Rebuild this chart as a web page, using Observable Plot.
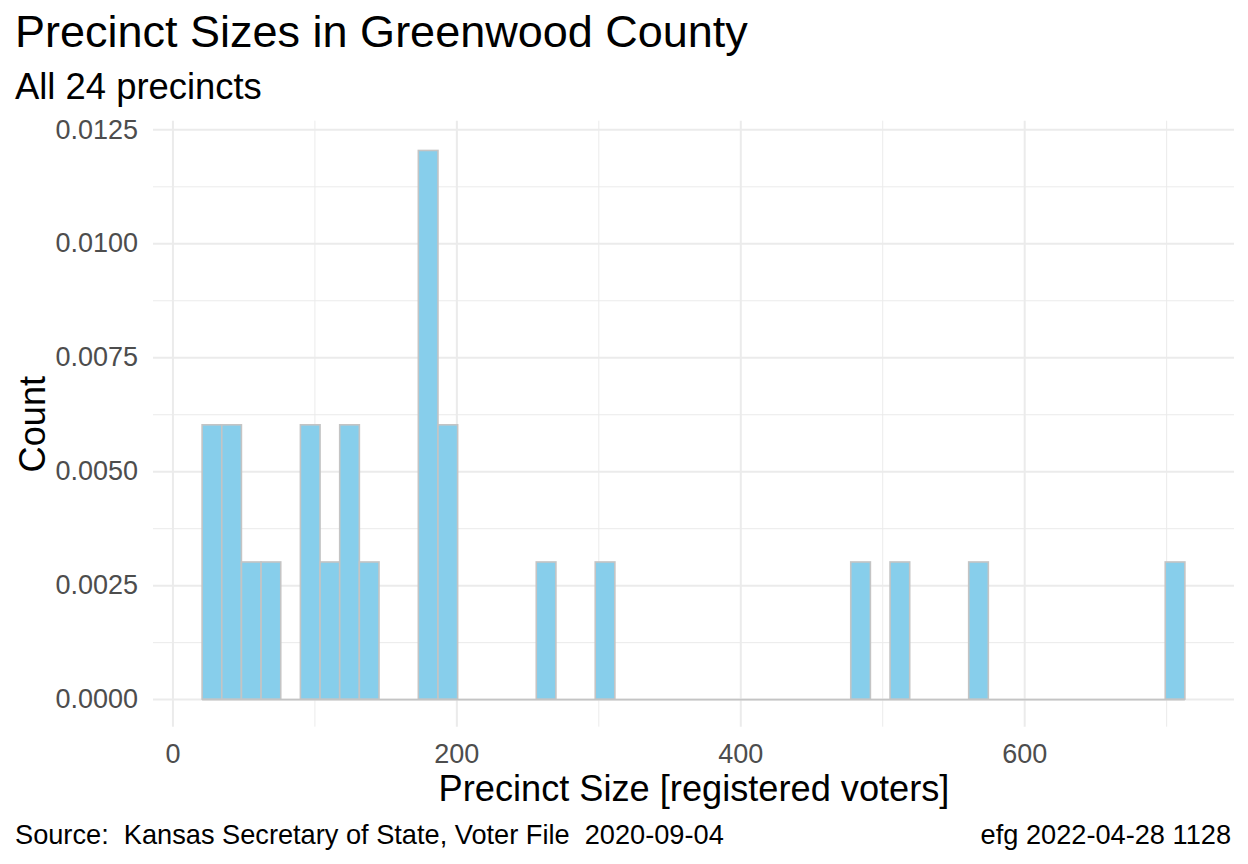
<!DOCTYPE html>
<html>
<head>
<meta charset="utf-8">
<script src="https://cdn.jsdelivr.net/npm/d3@7"></script>
<script src="https://cdn.jsdelivr.net/npm/@observablehq/plot@0.6"></script>
<style>
  body { margin: 0; background: #fff; font-family: "Liberation Sans", Arial, sans-serif; }
  #page { width: 1248px; height: 864px; overflow: hidden; background: #fff; }
  .blk { position: relative; width: 1248px; }
  .t { position: absolute; white-space: pre; line-height: 1; color: #000; }
  #chart svg { display: block; }
</style>
</head>
<body>
<div id="page">
  <div class="blk" id="head" style="height:110px">
    <div class="t" id="title" style="left:15px;top:9.3px;font-size:45px"></div>
    <div class="t" id="subtitle" style="left:15px;top:68.5px;font-size:36.4px"></div>
  </div>
  <div id="chart"></div>
  <div class="blk" id="foot" style="height:44px">
    <div class="t" id="capL" style="left:15px;top:1.4px;font-size:27.2px"></div>
    <div class="t" id="capR" style="right:17px;top:1.4px;font-size:27.2px"></div>
  </div>
</div>
<script>
// ---- Text ----
const titleText = "Precinct Sizes in Greenwood County";
const subtitleText = "All 24 precincts";
const xTitle = "Precinct Size [registered voters]";
const yTitle = "Count";
const captionLeft = "Source:  Kansas Secretary of State, Voter File  2020-09-04";
const captionRight = "efg 2022-04-28 1128";

// ---- Histogram data ----
const nPrecincts = 24;
const binStart = 20.9;      // left edge of first bin [voters]
const binWidth = 13.846;    // bin width [voters]
const binCounts = [2, 2, 1, 1, 0, 2, 1, 2, 1, 0,
                   0, 4, 2, 0, 0, 0, 0, 1, 0, 0,
                   1, 0, 0, 0, 0, 0, 0, 0, 0, 0,
                   0, 0, 0, 1, 0, 1, 0, 0, 0, 1,
                   0, 0, 0, 0, 0, 0, 0, 0, 0, 1];

// ---- Ticks ----
const xTicks = [0, 200, 400, 600];
const xMinorTicks = [100, 300, 500, 700];
const yTicks = [0, 0.0025, 0.005, 0.0075, 0.01, 0.0125];
const yMinorTicks = [0.00125, 0.00375, 0.00625, 0.00875, 0.01125];

document.getElementById("title").textContent = titleText;
document.getElementById("subtitle").textContent = subtitleText;
document.getElementById("capL").textContent = captionLeft;
document.getElementById("capR").textContent = captionRight;

const bins = binCounts.map((c, i) => ({
  x1: binStart + i * binWidth,
  x2: binStart + (i + 1) * binWidth,
  count: c,
  density: c / (nPrecincts * binWidth)
}));
const barBins = bins.filter(d => d.count > 0);
const firstEdge = bins[0].x1;
const lastEdge = bins[bins.length - 1].x2;

const gridColor = "#EBEBEB";
const barStroke = "#C4C4C4";

const chart = Plot.plot({
  width: 1248,
  height: 710,
  marginLeft: 153,
  marginRight: 14,
  marginTop: 10.7,
  marginBottom: 93.3,
  style: { fontFamily: "'Liberation Sans', Arial, sans-serif", background: "white", overflow: "visible" },
  x: { domain: [-13.7, 747.8] },
  y: { domain: [-0.000605, 0.01269] },
  marks: [
    Plot.ruleX(xMinorTicks, { stroke: gridColor, strokeWidth: 1 }),
    Plot.ruleY(yMinorTicks, { stroke: gridColor, strokeWidth: 1 }),
    Plot.ruleX(xTicks, { stroke: gridColor, strokeWidth: 2 }),
    Plot.ruleY(yTicks, { stroke: gridColor, strokeWidth: 2 }),
    Plot.ruleY([0], { x1: firstEdge, x2: lastEdge, stroke: barStroke, strokeWidth: 1.6 }),
    Plot.rect(barBins, { x1: "x1", x2: "x2", y1: 0, y2: "density", fill: "#87CEEB", stroke: barStroke, strokeWidth: 1.6 }),
    Plot.axisX(xTicks, { tickSize: 0, tickPadding: 16.6, fontSize: 27, fill: "#4D4D4D", label: null }),
    Plot.axisY(yTicks, { tickSize: 0, tickPadding: 15.5, fontSize: 27, fill: "#4D4D4D", label: null, tickFormat: d => d.toFixed(4) }),
    Plot.text([xTitle], { text: d => d, frameAnchor: "bottom", dy: 48.3, lineAnchor: "top", textAnchor: "middle", fontSize: 36.2, fill: "#000" }),
    Plot.text([yTitle], { text: d => d, frameAnchor: "left", dx: -134, rotate: -90, lineAnchor: "top", textAnchor: "middle", fontSize: 36.2, fill: "#000" })
  ]
});
document.getElementById("chart").appendChild(chart);
</script>
</body>
</html>
